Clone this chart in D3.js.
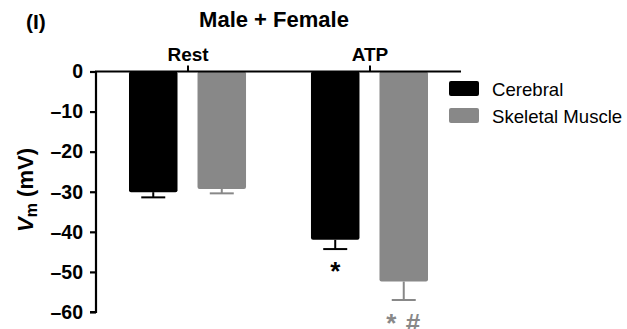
<!DOCTYPE html>
<html><head><meta charset="utf-8">
<script src="https://cdn.jsdelivr.net/npm/d3@7"></script>
<style>body{margin:0;background:#fff}svg{display:block;font-family:"Liberation Sans",Arial,sans-serif}</style>
</head><body><svg id="c" width="627" height="329"></svg>
<script>
const groups = ["Rest", "ATP"];
const seriesNames = ["Cerebral", "Skeletal Muscle"];
const seriesColors = ["#000000", "#888888"];
const cerebral = [-30.1, -42.0];
const cerebralErr = [1.3, 2.3];
const skeletal = [-29.3, -52.4];
const skeletalErr = [1.1, 4.6];
const yTicks = [0, -10, -20, -30, -40, -50, -60];
const cerebralMarks = ["", "*"];
const skeletalMarks = ["", "* #"];

const svg = d3.select("#c");
const F = "Liberation Sans, Arial, sans-serif";
const y = d3.scaleLinear().domain([0, -60]).range([71.5, 312]);
const x0 = d3.scaleBand().domain(groups).range([96, 461]).paddingInner(0.137).paddingOuter(0.0714);
const x1 = d3.scaleBand().domain(seriesNames).range([0, x0.bandwidth()]).padding(0.292);

const data = [cerebral, skeletal];
const errs = [cerebralErr, skeletalErr];
const marks = [cerebralMarks, skeletalMarks];

seriesNames.forEach((s, si) => {
  groups.forEach((g, gi) => {
    const bx = x0(g) + x1(s);
    const w = x1.bandwidth();
    const v = data[si][gi];
    const e = errs[si][gi];
    const cx = bx + w / 2;
    svg.append("line").attr("x1", cx).attr("x2", cx).attr("y1", y(v)).attr("y2", y(v - e))
      .attr("stroke", seriesColors[si]).attr("stroke-width", 2);
    svg.append("line").attr("x1", cx - 12).attr("x2", cx + 12).attr("y1", y(v - e)).attr("y2", y(v - e))
      .attr("stroke", seriesColors[si]).attr("stroke-width", 2);
    svg.append("rect").attr("x", bx).attr("y", y(0)).attr("width", w).attr("height", y(v) - y(0))
      .attr("rx", 2).attr("fill", seriesColors[si]);
    if (marks[si][gi]) {
      svg.append("text").attr("x", cx).attr("y", y(v - e) + (si === 0 ? 31 : 32))
        .attr("text-anchor", "middle").attr("font-size", 26).attr("font-weight", "bold")
        .attr("fill", seriesColors[si]).attr("letter-spacing", si === 1 ? 1 : 0)
        .attr("font-family", F)
        .text(marks[si][gi]);
    }
  });
});

// y axis
const yAxis = d3.axisLeft(y).tickValues(yTicks).tickSize(6).tickPadding(7)
  .tickFormat(d => d === 0 ? "0" : "\u2013" + Math.abs(d));
const ya = svg.append("g").attr("transform", "translate(96,0)").call(yAxis);
ya.select(".domain").attr("stroke-width", 2.2).attr("d", `M-6,${y(-60)}H0V${y(0)}`);
ya.selectAll(".tick line").attr("stroke-width", 2.2);
ya.selectAll("text").attr("font-size", 19.5).attr("font-weight", "bold").attr("font-family", F);

// top x axis
const xAxis = d3.axisTop(d3.scalePoint().domain(groups).range([x0("Rest") + x0.bandwidth() / 2, x0("ATP") + x0.bandwidth() / 2]))
  .tickSize(6).tickPadding(5);
const xa = svg.append("g").attr("transform", `translate(0,${y(0)})`).call(xAxis);
xa.select(".domain").remove();
svg.append("line").attr("x1", 95).attr("x2", 461).attr("y1", y(0)).attr("y2", y(0)).attr("stroke", "#000").attr("stroke-width", 2.2);
xa.selectAll(".tick line").attr("stroke-width", 2);
xa.selectAll("text").attr("font-size", 19).attr("font-weight", "bold").attr("font-family", F);

// title
svg.append("text").attr("x", 274).attr("y", 27).attr("text-anchor", "middle")
  .attr("font-size", 22).attr("font-weight", "bold").text("Male + Female");
svg.append("text").attr("x", 26).attr("y", 29).attr("font-size", 21).attr("font-weight", "bold").text("(I)");

// y label
const yl = svg.append("text").attr("transform", `translate(33,190) rotate(-90)`).attr("text-anchor", "middle")
  .attr("font-size", 22).attr("font-weight", "bold");
yl.append("tspan").attr("font-style", "italic").text("V");
yl.append("tspan").attr("font-size", 16).attr("dy", 4).text("m");
yl.append("tspan").attr("dy", -4).text(" (mV)");

// legend
seriesNames.forEach((s, i) => {
  const ly = 81 + i * 27;
  svg.append("rect").attr("x", 449).attr("y", ly).attr("width", 30).attr("height", 15).attr("rx", 2).attr("fill", seriesColors[i]);
  svg.append("text").attr("x", 492).attr("y", ly + 15).attr("font-size", 18.6).text(s);
});
</script></body></html>
